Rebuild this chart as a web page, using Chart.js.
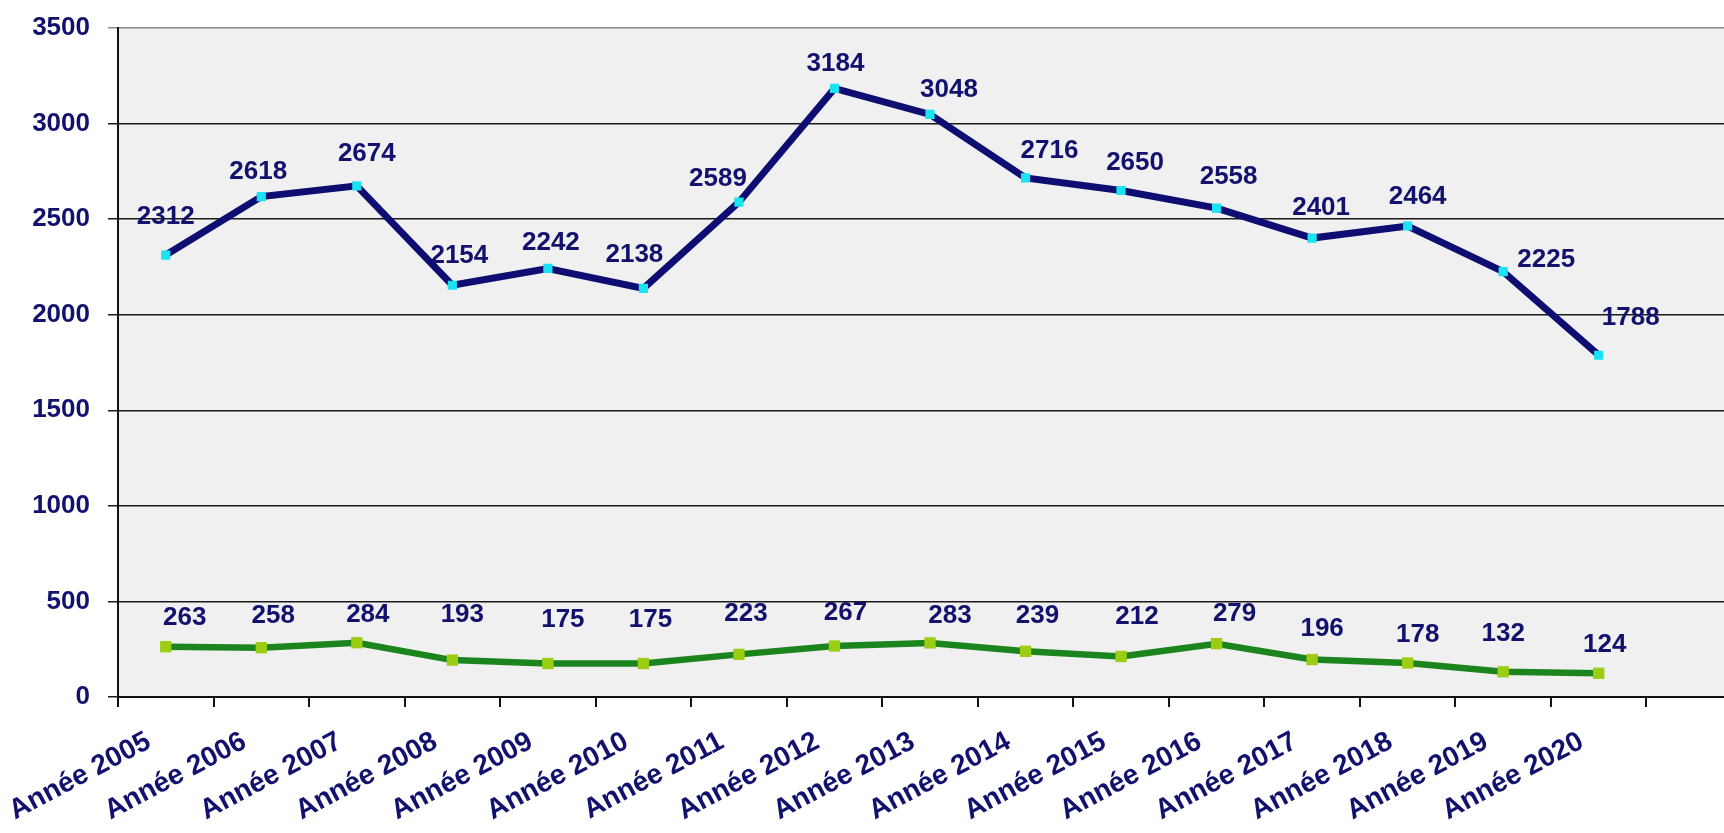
<!DOCTYPE html>
<html>
<head>
<meta charset="utf-8">
<script src="https://cdn.jsdelivr.net/npm/chart.js@4"></script>
<style>
  html, body { margin: 0; padding: 0; background: #fff; overflow: hidden; }
  #wrap { width: 1750px; height: 833px; position: relative; }
</style>
</head>
<body>
<div id="wrap"><canvas id="lineChart"></canvas></div>
<script>
  // data
  var years = ['Année 2005', 'Année 2006', 'Année 2007', 'Année 2008', 'Année 2009', 'Année 2010',
    'Année 2011', 'Année 2012', 'Année 2013', 'Année 2014', 'Année 2015', 'Année 2016',
    'Année 2017', 'Année 2018', 'Année 2019', 'Année 2020', ''];
  var topSeries = [2312, 2618, 2674, 2154, 2242, 2138, 2589, 3184, 3048, 2716, 2650, 2558, 2401, 2464, 2225, 1788, null];
  var lowSeries = [263, 258, 284, 193, 175, 175, 223, 267, 283, 239, 212, 279, 196, 178, 132, 124, null];
  var yTicks = [0, 500, 1000, 1500, 2000, 2500, 3000, 3500];

  // label nudges (px, relative to the point) to follow the original placement
  var topNudge = [[0,-38],[-3,-25],[10,-32],[7,-29],[3,-26],[-9,-34],[-21,-23],[1,-25],[19,-25],[24,-27],[14,-28],[12,-31],[9,-30],[10,-29],[43,-12],[32,-37]];
  var lowNudge = [[19,-29],[12,-32],[11,-28],[10,-45],[15,-44],[7,-44],[7,-41],[11,-33],[20,-27],[12,-35],[16,-40],[18,-30],[10,-31],[10,-28],[0,-38],[6,-28]];

  var navy = '#12126e';
  var font = { family: "'Liberation Sans', Arial, sans-serif", size: 26, weight: 'bold' };
  var xFont = { family: "'Liberation Sans', Arial, sans-serif", size: 28, weight: 'bold' };

  var plotBg = {
    id: 'plotBg',
    beforeDraw: function (chart) {
      var a = chart.chartArea, ctx = chart.ctx;
      ctx.save();
      ctx.fillStyle = '#f0f0f0';
      ctx.fillRect(a.left, a.top, a.right - a.left, a.bottom - a.top);
      ctx.restore();
    }
  };

  var valueLabels = {
    id: 'valueLabels',
    afterDatasetsDraw: function (chart) {
      var ctx = chart.ctx;
      var nudges = [topNudge, lowNudge];
      ctx.save();
      ctx.font = 'bold 26px "Liberation Sans", Arial, sans-serif';
      ctx.fillStyle = navy;
      ctx.textAlign = 'center';
      ctx.textBaseline = 'middle';
      chart.data.datasets.forEach(function (ds, d) {
        var meta = chart.getDatasetMeta(d);
        meta.data.forEach(function (pt, i) {
          var v = ds.data[i];
          if (v === null || v === undefined) return;
          var n = nudges[d][i] || [0, -30];
          ctx.fillText(String(v), pt.x + n[0], pt.y + n[1]);
        });
      });
      ctx.restore();
    }
  };

  var ctxL = document.getElementById('lineChart').getContext('2d');
  var myLineChart = new Chart(ctxL, {
    type: 'line',
    data: {
      labels: years,
      datasets: [{
          label: 'Total',
          data: topSeries,
          borderColor: '#0e0e72',
          borderWidth: 7,
          pointStyle: 'rect',
          pointRadius: 6.5,
          pointBackgroundColor: '#19e3f0',
          pointBorderWidth: 0,
          tension: 0
        }, {
          label: 'Autre',
          data: lowSeries,
          borderColor: '#1c841c',
          borderWidth: 6.5,
          pointStyle: 'rect',
          pointRadius: 8,
          pointBackgroundColor: '#9acd14',
          pointBorderWidth: 0,
          tension: 0
        }
      ]
    },
    options: {
      responsive: true,
      maintainAspectRatio: false,
      animation: false,
      layout: { padding: { top: 28, left: 0, right: 0, bottom: 0 } },
      plugins: { legend: { display: false }, tooltip: { enabled: false } },
      scales: {
        x: {
          offset: true,
          grid: { offset: true, drawOnChartArea: false, drawTicks: true, tickLength: 10, color: '#111', lineWidth: 2 },
          border: { color: '#111', width: 2 },
          ticks: { autoSkip: false, maxRotation: 28, minRotation: 28, color: navy, font: xFont, padding: 18, labelOffset: -17 },
          afterFit: function (scale) { scale.height = 136; }
        },
        y: {
          min: 0,
          max: 3500,
          afterBuildTicks: function (scale) {
            scale.ticks = yTicks.map(function (v) { return { value: v }; });
          },
          grid: {
            color: function (c) { return c.tick && c.tick.value === 3500 ? '#8a8a8a' : '#1a1a1a'; },
            lineWidth: 1.5,
            tickLength: 10
          },
          border: { color: '#111', width: 2 },
          ticks: { color: navy, font: font, padding: 18, callback: function (v) { return String(v); } },
          afterFit: function (scale) {
            scale.width = 118;
            scale.paddingTop = 0;
            scale.paddingBottom = 0;
          }
        }
      }
    },
    plugins: [plotBg, valueLabels]
  });
</script>
</body>
</html>
